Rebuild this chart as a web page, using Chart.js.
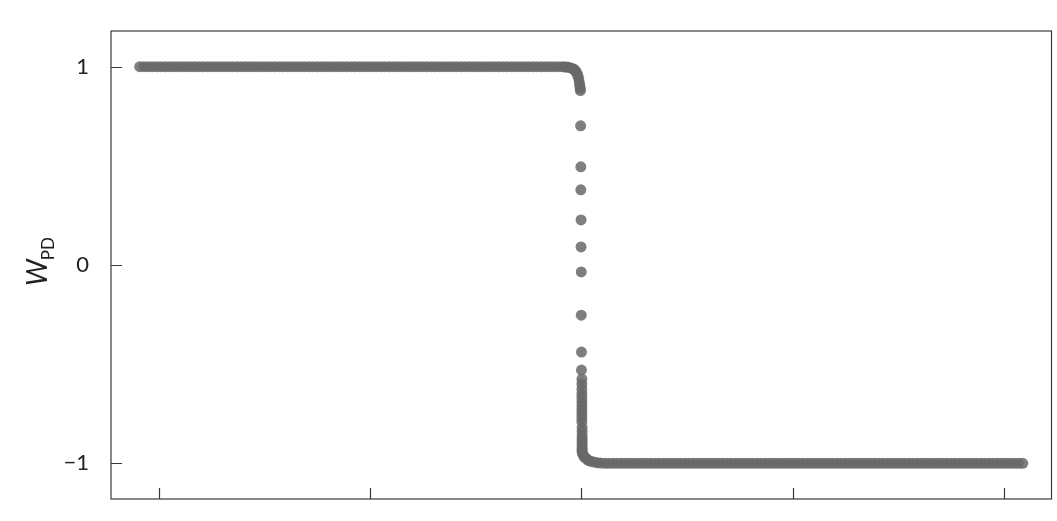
<!DOCTYPE html>
<html>
<head>
<meta charset="utf-8">
<script src="https://cdn.jsdelivr.net/npm/chart.js@4"></script>
<style>
  html, body { margin: 0; padding: 0; background: #fff; }
  #wrap { width: 1057px; height: 521px; position: relative; }
</style>
</head>
<body>
<div id="wrap"><canvas id="chart"></canvas></div>
<script>
// upper plateau (W = 1)
const upperX = [-2.09,-2.07,-2.05,-2.03,-2.01,-1.99,-1.97,-1.95,-1.93,-1.91,-1.89,-1.87,-1.85,-1.83,-1.81,-1.79,-1.77,-1.75,-1.73,-1.71,
  -1.69,-1.67,-1.65,-1.63,-1.61,-1.59,-1.57,-1.55,-1.53,-1.51,-1.49,-1.47,-1.45,-1.43,-1.41,-1.39,-1.37,-1.35,-1.33,-1.31,
  -1.29,-1.27,-1.25,-1.23,-1.21,-1.19,-1.17,-1.15,-1.13,-1.11,-1.09,-1.07,-1.05,-1.03,-1.01,-0.99,-0.97,-0.95,-0.93,-0.91,
  -0.89,-0.87,-0.85,-0.83,-0.81,-0.79,-0.77,-0.75,-0.73,-0.71,-0.69,-0.67,-0.65,-0.63,-0.61,-0.59,-0.57,-0.55,-0.53,-0.51,
  -0.49,-0.47,-0.45,-0.43,-0.41,-0.39,-0.37,-0.35,-0.33,-0.31,-0.29,-0.27,-0.25,-0.23,-0.21,-0.19,-0.17,-0.15,-0.13,-0.11];
const upperY = 1;

// switching region
const transX = [-0.09,-0.08,-0.07,-0.06,-0.05,-0.04,-0.035,-0.03,-0.025,-0.02,-0.016,-0.012,-0.009,-0.007,-0.005,-0.004,
  -0.003,-0.002,-0.002,-0.001,-0.001,0,0,0.001,0.001,
  0.003,0.003,0.003,0.003,0.003,0.003,0.003,0.003,0.003,0.003,0.003,
  0.004,0.004,0.004,0.004,0.004,0.004,0.004,0.004,0.004,
  0.006,0.01,0.014,0.02,0.026,0.034,0.045,0.06,0.075,0.09];
const transY = [1.0,0.999,0.998,0.997,0.994,0.99,0.987,0.982,0.976,0.965,0.955,0.94,0.92,0.905,0.89,0.88,
  0.702,0.495,0.379,0.227,0.091,-0.035,-0.253,-0.439,-0.53,
  -0.575,-0.6,-0.625,-0.65,-0.67,-0.69,-0.71,-0.73,-0.75,-0.77,-0.79,
  -0.82,-0.84,-0.86,-0.875,-0.89,-0.905,-0.92,-0.93,-0.94,
  -0.95,-0.96,-0.967,-0.973,-0.979,-0.985,-0.99,-0.994,-0.997,-0.999];

// lower plateau (W = -1)
const lowerX = [0.11,0.13,0.15,0.17,0.19,0.21,0.23,0.25,0.27,0.29,0.31,0.33,0.35,0.37,0.39,0.41,0.43,0.45,0.47,0.49,
  0.51,0.53,0.55,0.57,0.59,0.61,0.63,0.65,0.67,0.69,0.71,0.73,0.75,0.77,0.79,0.81,0.83,0.85,0.87,0.89,
  0.91,0.93,0.95,0.97,0.99,1.01,1.03,1.05,1.07,1.09,1.11,1.13,1.15,1.17,1.19,1.21,1.23,1.25,1.27,1.29,
  1.31,1.33,1.35,1.37,1.39,1.41,1.43,1.45,1.47,1.49,1.51,1.53,1.55,1.57,1.59,1.61,1.63,1.65,1.67,1.69,
  1.71,1.73,1.75,1.77,1.79,1.81,1.83,1.85,1.87,1.89,1.91,1.93,1.95,1.97,1.99,2.01,2.03,2.05,2.07,2.09];
const lowerY = -1;

const xTicks = [-2, -1, 0, 1, 2];
const yTicks = [-1, 0, 1];

const points = [
  ...upperX.map(x => ({ x, y: upperY })),
  ...transX.map((x, i) => ({ x, y: transY[i] })),
  ...lowerX.map(x => ({ x, y: lowerY }))
];

const FONT = "Lato, 'Open Sans', sans-serif";

// box, inward ticks and the W_PD title
const frame = {
  id: "frame",
  afterDraw(chart) {
    const { ctx, chartArea: a, scales } = chart;
    ctx.save();
    ctx.strokeStyle = "#3a3a3a";
    ctx.lineWidth = 1.2;
    ctx.strokeRect(a.left, a.top, a.right - a.left, a.bottom - a.top);
    ctx.beginPath();
    yTicks.forEach(v => {
      const py = Math.round(scales.y.getPixelForValue(v)) + 0.5;
      ctx.moveTo(a.left, py); ctx.lineTo(a.left + 11, py);
    });
    xTicks.forEach(v => {
      const px = Math.round(scales.x.getPixelForValue(v)) + 0.5;
      ctx.moveTo(px, a.bottom); ctx.lineTo(px, a.bottom - 11);
    });
    ctx.stroke();

    ctx.translate(47, 286);
    ctx.rotate(-Math.PI / 2);
    ctx.fillStyle = "#222";
    ctx.textBaseline = "alphabetic";
    ctx.font = "italic 28px " + FONT;
    ctx.fillText("W", 0, 0);
    const w = ctx.measureText("W").width;
    ctx.font = "17px " + FONT;
    ctx.fillText("PD", w - 1, 7);
    ctx.restore();
  }
};

new Chart(document.getElementById("chart"), {
  type: "scatter",
  data: {
    datasets: [{
      data: points,
      backgroundColor: "rgba(105,105,105,0.85)",
      borderWidth: 0,
      pointRadius: 5.5,
      pointHoverRadius: 5.5
    }]
  },
  options: {
    responsive: true,
    maintainAspectRatio: false,
    animation: false,
    layout: { padding: { top: 31, right: 5, left: 0, bottom: 0 } },
    plugins: { legend: { display: false }, tooltip: { enabled: false } },
    scales: {
      x: {
        type: "linear",
        min: -2.226, max: 2.226,
        grid: { display: false },
        border: { display: false },
        ticks: { display: false },
        afterBuildTicks: s => { s.ticks = xTicks.map(v => ({ value: v })); },
        afterFit: s => { s.height = 22; s.paddingLeft = 0; s.paddingRight = 0; }
      },
      y: {
        type: "linear",
        min: -1.18, max: 1.18,
        grid: { display: false },
        border: { display: false },
        afterBuildTicks: s => { s.ticks = yTicks.map(v => ({ value: v })); },
        afterFit: s => { s.width = 111; s.paddingTop = 0; s.paddingBottom = 0; },
        ticks: {
          padding: 14,
          color: "#222",
          font: { family: FONT, size: 22, weight: "normal" },
          callback: v => v < 0 ? "\u2212" + Math.abs(v) : String(v)
        }
      }
    }
  },
  plugins: [frame]
});
</script>
</body>
</html>
